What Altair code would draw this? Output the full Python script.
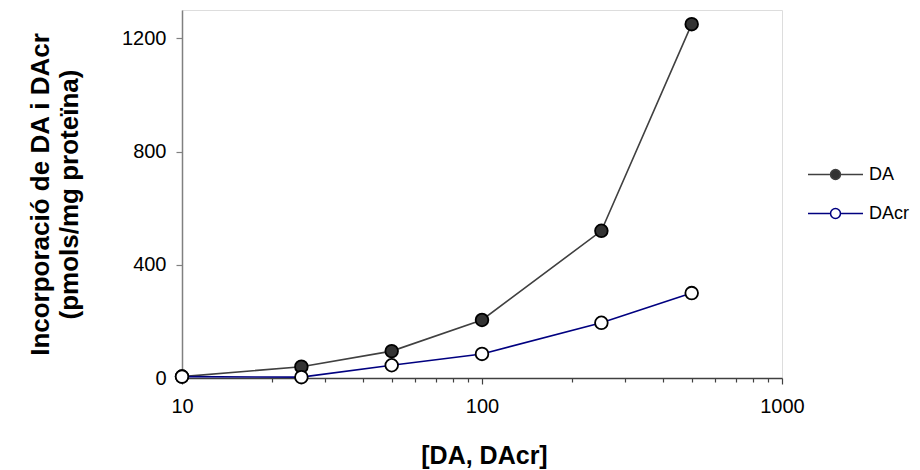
import altair as alt
import pandas as pd

conc = [10, 25, 50, 100, 250, 500]
da = [5, 40, 95, 205, 520, 1250]
dacr = [5, 3, 45, 85, 195, 300]
series_names = ["DA", "DAcr"]
y_ticks = [0, 400, 800, 1200]
x_ticks = [10, 20, 30, 40, 50, 60, 70, 80, 90, 100, 200, 300, 400, 500, 600, 700, 800, 900, 1000]

rows = []
for c, v in zip(conc, da):
    rows.append({"conc": c, "val": v, "series": "DA"})
for c, v in zip(conc, dacr):
    rows.append({"conc": c, "val": v, "series": "DAcr"})
df = pd.DataFrame(rows)

FONT = "Liberation Sans"
sym_path = "M-1,0H-0.18M0.18,0H1M-0.18,0A0.18,0.18,0,1,0,0.18,0A0.18,0.18,0,1,0,-0.18,0Z"
major = "datum.value == 10 || datum.value == 100 || datum.value == 1000"

x_enc = alt.X(
    "conc:Q",
    scale=alt.Scale(type="log", domain=[10, 1000], nice=False),
    axis=alt.Axis(
        values=x_ticks,
        format="d",
        labelExpr="(" + major + ") ? datum.label : ''",
        tickSize={"condition": {"test": major, "value": 6}, "value": 4},
        grid=False,
        labelFontSize=20,
        labelFont=FONT,
        labelColor="#000000",
        labelPadding=12,
        labelFlush=False,
        labelOverlap=False,
        domainColor="#404040",
        tickColor="#404040",
        domainWidth=1.5,
        tickWidth=1.2,
        title="[DA, DAcr]",
        titleFont=FONT,
        titleFontSize=25,
        titleFontWeight="bold",
        titleColor="#000000",
        titleX=302,
        titleY=77,
        titleBaseline="middle",
        titleAlign="center",
    ),
)
y_enc = alt.Y(
    "val:Q",
    scale=alt.Scale(domain=[0, 1300], nice=False),
    axis=alt.Axis(
        values=y_ticks,
        format="d",
        grid=False,
        labelFontSize=20,
        labelFont=FONT,
        labelColor="#000000",
        labelPadding=10,
        tickSize=6,
        domainColor="#808080",
        tickColor="#808080",
        domainWidth=1.5,
        tickWidth=1.2,
        title=["Incorporació de DA i DAcr", "(pmols/mg proteïna)"],
        titleFont=FONT,
        titleFontSize=26,
        titleFontWeight="bold",
        titleColor="#000000",
        titleLineHeight=29,
        titleAngle=270,
        titleX=-142,
        titleY=184,
        titleBaseline="middle",
        titleAlign="center",
    ),
)

legend = alt.Legend(
    title=None,
    orient="none",
    legendX=625,
    legendY=136,
    symbolType=sym_path,
    symbolSize=3025,
    symbolStrokeWidth=1.5,
    labelFont=FONT,
    labelFontSize=18,
    labelColor="#000000",
    labelOffset=5,
    rowPadding=1,
)

lines = alt.Chart(df).mark_line(strokeWidth=1.6).encode(
    x=x_enc,
    y=y_enc,
    color=alt.Color("series:N", scale=alt.Scale(domain=series_names, range=["#404040", "#000080"]), legend=legend),
)

points = alt.Chart(df).mark_point(filled=False, size=160, strokeWidth=1.8, opacity=1).encode(
    x=alt.X("conc:Q"),
    y=alt.Y("val:Q"),
    fill=alt.Fill("series:N", scale=alt.Scale(domain=series_names, range=["#333333", "#ffffff"]), legend=legend),
    stroke=alt.value("#000000"),
    shape=alt.value("circle"),
)

chart = alt.layer(lines, points).properties(
    width=600,
    height=368,
    autosize=alt.AutoSizeParams(type="none"),
    padding={"left": 174, "top": 2, "right": 130, "bottom": 92},
).configure_view(stroke=None).configure(background="white")

chart.save("out.html", embed_options={"renderer": "svg", "actions": False})
